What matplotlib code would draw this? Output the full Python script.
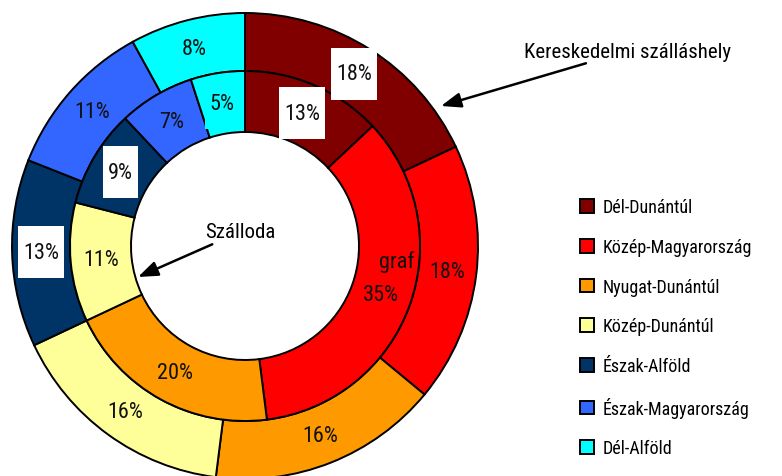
import matplotlib
matplotlib.use('Agg')
import matplotlib.pyplot as plt
from matplotlib.path import Path

plt.rcParams['font.family'] = ['Roboto Condensed', 'Liberation Sans', 'DejaVu Sans']

# Regions, outer ring = Kereskedelmi szálláshely, inner ring = Szálloda
regions = ['Dél-Dunántúl', 'Közép-Magyarország', 'Nyugat-Dunántúl', 'Közép-Dunántúl',
           'Észak-Alföld', 'Észak-Magyarország', 'Dél-Alföld']
outer_vals = [18, 18, 16, 16, 13, 11, 8]
inner_vals = [13, 35, 20, 11, 9, 7, 5]
colors = ['#800000', '#FF0000', '#FF9900', '#FFFF99', '#003366', '#3366FF', '#00FFFF']

W, H = 782, 477
CX, CY = 245, H - 247
R_OUT, R_MID, R_HOLE = 233, 175, 114

fig = plt.figure(figsize=(W / 100, H / 100), dpi=100)
ax = fig.add_axes([0, 0, 1, 1])

edge = dict(edgecolor='black', linewidth=1.4)
w_out, _, at_out = ax.pie(outer_vals, colors=colors, startangle=90, counterclock=False,
                          radius=R_OUT, center=(CX, CY), autopct='%.0f%%',
                          pctdistance=(R_OUT + R_MID) / 2 / R_OUT,
                          wedgeprops=dict(width=R_OUT - R_MID, **edge),
                          textprops=dict(fontsize=16, color='#111111'))
w_in, _, at_in = ax.pie(inner_vals, colors=colors, startangle=90, counterclock=False,
                        radius=R_MID, center=(CX, CY), autopct='%.0f%%',
                        pctdistance=(R_MID + R_HOLE) / 2 / R_MID,
                        wedgeprops=dict(width=R_MID - R_HOLE, **edge),
                        textprops=dict(fontsize=16, color='#111111'))


def tall_box(x0, y0, width, height, mutation_size):
    px, py = 0.22 * mutation_size, 0.7 * mutation_size
    x0, y0 = x0 - px, y0 - py
    x1, y1 = x0 + width + 2 * px, y0 + height + 2 * py
    return Path([(x0, y0), (x1, y0), (x1, y1), (x0, y1), (x0, y0)], closed=True)


for t in [at_out[0], at_out[4], at_in[0], at_in[4]]:
    t.set_bbox(dict(boxstyle=tall_box, facecolor='white', edgecolor='none'))
at_in[6].set_bbox(dict(boxstyle=tall_box, facecolor=colors[6], edgecolor='none'))

# leftover label inside the Közép-Magyarország slice
ax.text(397, H - 262, 'graf', fontsize=16, ha='center', va='center', color='#111111')

arrow = dict(arrowstyle='-|>,head_length=0.8,head_width=0.3', color='black', lw=1.8,
             shrinkA=0, shrinkB=0)
ax.annotate('Kereskedelmi szálláshely', xy=(441, H - 107), xytext=(524, H - 52),
            fontsize=15, ha='left', va='center', arrowprops=arrow)
ax.annotate('Szálloda', xy=(138, H - 278), xytext=(205, H - 233),
            fontsize=15, ha='left', va='center', arrowprops=arrow)

ax.legend(w_out, regions, loc='center left', bbox_to_anchor=(580 / W, (H - 329) / H),
          bbox_transform=fig.transFigure, frameon=False, fontsize=13,
          handlelength=0.8, handleheight=0.8, handletextpad=0.45,
          labelspacing=1.2, borderpad=0, borderaxespad=0)

ax.set_xlim(0, W)
ax.set_ylim(0, H)
ax.set_aspect('equal')
ax.axis('off')

fig.savefig('out.png', dpi=100, facecolor='white')
plt.close(fig)
